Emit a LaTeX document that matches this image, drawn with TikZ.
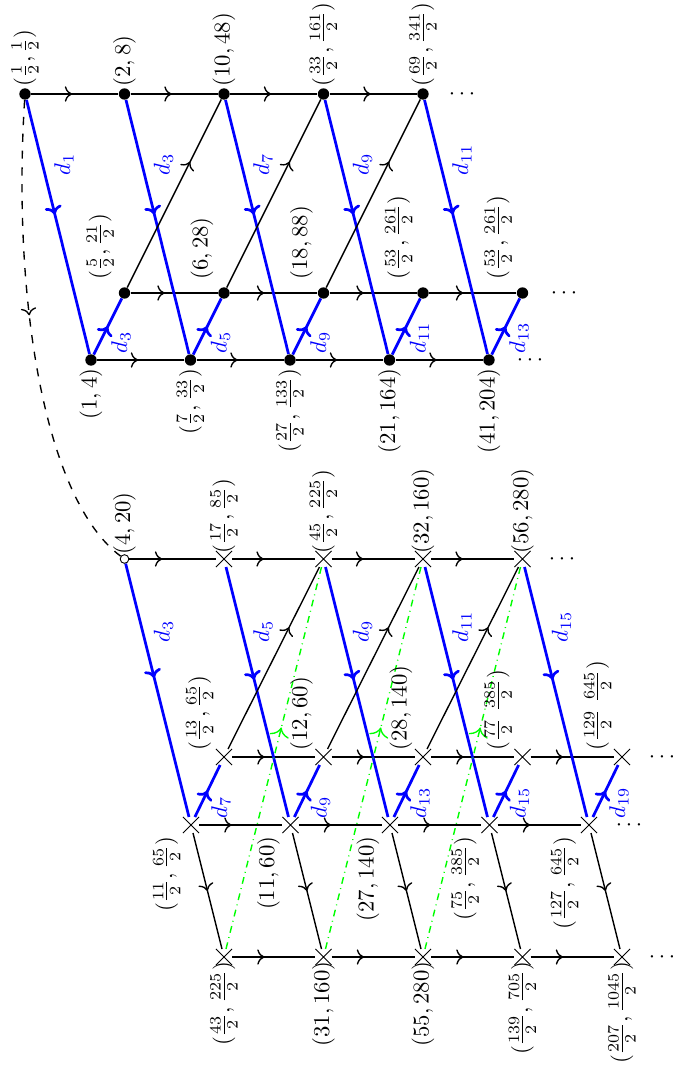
\documentclass[tikz,border=0pt]{standalone}
\usetikzlibrary{decorations.markings,shapes.misc,arrows.meta}
\begin{document}
\begin{tikzpicture}[x=0.44pt,y=-0.44pt,
  dot/.style={circle,fill,inner sep=0pt,minimum size=5pt},
  odot/.style={circle,draw,fill=white,inner sep=0pt,minimum size=3.8pt,line width=0.4pt},
  crs/.style={cross out,draw,inner sep=0pt,minimum size=6.6pt,line width=0.45pt},
  lab/.style={rotate=90,inner sep=1pt},
  dlab/.style={rotate=90,inner sep=1pt,text=blue},
  blk/.style={line width=0.6pt,>={To[scale=1.1]}},
  blu/.style={blue,line width=1.2pt,>={To[scale=0.85]}},
  grn/.style={green,dash dot,line width=0.6pt,>={To[scale=1.4]}},
  dsh/.style={line width=0.6pt,dash pattern=on 3.6pt off 3.8pt,>={To[scale=1.1]}},
  marr/.style={postaction={decorate},decoration={markings,mark=at position #1 with {\arrow{>}}}},
]
\useasboundingbox (0,0) rectangle (672,1071);

% ---------- top diagram nodes ----------
\foreach \n/\x in {1/25,2/124.5,3/224,4/323.5,5/423} \node[dot] (A\n) at (\x,94) {};
\foreach \n/\x in {1/124.5,2/224,3/323.5,4/423,5/522.5} \node[dot] (B\n) at (\x,293) {};
\foreach \n/\x in {1/91,2/190.5,3/290,4/389.5,5/489} \node[dot] (C\n) at (\x,360) {};
% ---------- bottom diagram nodes ----------
\node[odot] (D1) at (124.5,559) {};
\foreach \n/\x in {2/224,3/323.5,4/423,5/522.5} \node[crs] (D\n) at (\x,559) {};
\foreach \n/\x in {1/224,2/323.5,3/423,4/522.5,5/622} \node[crs] (E\n) at (\x,757) {};
\foreach \n/\x in {1/191,2/290.5,3/390,4/489.5,5/589} \node[crs] (F\n) at (\x,825) {};
\foreach \n/\x in {1/224,2/323.5,3/423,4/522.5,5/622} \node[crs] (G\n) at (\x,957) {};

% ---------- top diagram edges ----------
\foreach \a/\b in {1/2,2/3,3/4,4/5} {
  \draw[blk,marr=0.47] (A\a) -- (A\b);
  \draw[blk,marr=0.39] (B\a) -- (B\b);
  \draw[blk,marr=0.47] (C\a) -- (C\b);
}
\foreach \n in {1,...,5} {
  \draw[blu,marr=0.45] (A\n) -- (C\n);
  \draw[blu,marr=0.5] (C\n) -- (B\n);
}
\foreach \a/\b in {1/3,2/4,3/5} \draw[blk,marr=0.67] (B\a) -- (A\b);

% ---------- bottom diagram edges ----------
\foreach \a/\b in {1/2,2/3,3/4,4/5} {
  \draw[blk,marr=0.38] (D\a) -- (D\b);
  \draw[blk,marr=0.39] (E\a) -- (E\b);
  \draw[blk,marr=0.39] (F\a) -- (F\b);
  \draw[blk,marr=0.39] (G\a) -- (G\b);
}
\foreach \n in {1,...,5} {
  \draw[blu,marr=0.45] (D\n) -- (F\n);
  \draw[blu,marr=0.5] (F\n) -- (E\n);
  \draw[blk,marr=0.5] (F\n) -- (G\n);
}
\foreach \a/\b in {1/3,2/4,3/5} {
  \draw[blk,marr=0.67] (E\a) -- (D\b);
  \draw[grn,marr=0.58] (G\a) -- (D\b);
}
\draw[dsh,marr=0.45] (A1) .. controls (12,300) and (45,500) .. (D1);

% ---------- dots ----------
\node (eA) at (462,94) {$\cdots$};
\node (eB) at (564,293) {$\cdots$};
\node (eC) at (530,360) {$\cdots$};
\node (eD) at (562,559) {$\cdots$};
\node (eE) at (662,757) {$\cdots$};
\node (eF) at (629,825) {$\cdots$};
\node (eG) at (662,957) {$\cdots$};

% ---------- labels row A ----------
\node[lab,anchor=west] (lA1) at (25,89) {$(\frac{1}{2},\frac{1}{2})$};
\node[lab,anchor=west] (lA2) at (124.5,89) {$(2,8)$};
\node[lab,anchor=west] (lA3) at (224,89) {$(10,48)$};
\node[lab,anchor=west] (lA4) at (323.5,89) {$(\frac{33}{2},\frac{161}{2})$};
\node[lab,anchor=west] (lA5) at (423,89) {$(\frac{69}{2},\frac{341}{2})$};
% row B
\node[lab,anchor=south west] (lB1) at (116.5,282) {$(\frac{5}{2},\frac{21}{2})$};
\node[lab,anchor=south west] (lB2) at (216,282) {$(6,28)$};
\node[lab,anchor=south west] (lB3) at (315.5,282) {$(18,88)$};
\node[lab,anchor=south west] (lB4) at (415,282) {$(\frac{53}{2},\frac{261}{2})$};
\node[lab,anchor=south west] (lB5) at (514.5,282) {$(\frac{53}{2},\frac{261}{2})$};
% row C
\node[lab,anchor=east] (lC1) at (91,366) {$(1,4)$};
\node[lab,anchor=east] (lC2) at (190.5,366) {$(\frac{7}{2},\frac{33}{2})$};
\node[lab,anchor=east] (lC3) at (290,366) {$(\frac{27}{2},\frac{133}{2})$};
\node[lab,anchor=east] (lC4) at (389.5,366) {$(21,164)$};
\node[lab,anchor=east] (lC5) at (489,366) {$(41,204)$};
% row D
\node[lab,anchor=west] (lD1) at (124.5,557) {$(4,20)$};
\node[lab,anchor=west] (lD2) at (224,556) {$(\frac{17}{2},\frac{85}{2})$};
\node[lab,anchor=west] (lD3) at (323.5,556) {$(\frac{45}{2},\frac{225}{2})$};
\node[lab,anchor=west] (lD4) at (423,556) {$(32,160)$};
\node[lab,anchor=west] (lD5) at (522.5,556) {$(56,280)$};
% row E
\node[lab,anchor=south west] (lE1) at (216,753) {$(\frac{13}{2},\frac{65}{2})$};
\node[lab,anchor=south west] (lE2) at (315.5,753) {$(12,60)$};
\node[lab,anchor=south west] (lE3) at (415,753) {$(28,140)$};
\node[lab,anchor=south west] (lE4) at (514.5,753) {$(\frac{77}{2}\;\frac{385}{2})$};
\node[lab,anchor=south west] (lE5) at (614,753) {$(\frac{129}{2}\;\frac{645}{2})$};
% row F
\node[lab,anchor=south east] (lF1) at (183,834) {$(\frac{11}{2},\frac{65}{2})$};
\node[lab,anchor=south east] (lF2) at (282.5,834) {$(11,60)$};
\node[lab,anchor=south east] (lF3) at (382,834) {$(27,140)$};
\node[lab,anchor=south east] (lF4) at (481.5,834) {$(\frac{75}{2},\frac{385}{2})$};
\node[lab,anchor=south east] (lF5) at (581,834) {$(\frac{127}{2},\frac{645}{2})$};
% row G
\node[lab,anchor=east] (lG1) at (224,959) {$(\frac{43}{2},\frac{225}{2})$};
\node[lab,anchor=east] (lG2) at (323.5,959) {$(31,160)$};
\node[lab,anchor=east] (lG3) at (423,959) {$(55,280)$};
\node[lab,anchor=east] (lG4) at (522.5,959) {$(\frac{139}{2},\frac{705}{2})$};
\node[lab,anchor=east] (lG5) at (622,959) {$(\frac{207}{2},\frac{1045}{2})$};

% ---------- blue d labels ----------
\foreach \n/\x/\s in {1/64/1,2/163.5/3,3/263/7,4/362.5/9,5/462/11}
  \node[dlab,anchor=west] (dA\n) at (\x,178) {$d_{\s}$};
\foreach \n/\x/\s in {1/121/3,2/220.5/5,3/320/9,4/419.5/11,5/519/13}
  \node[dlab,anchor=west] (dC\n) at (\x,356) {$d_{\s}$};
\foreach \n/\x/\s in {1/163.5/3,2/263/5,3/362.5/9,4/462/11,5/561.5/15}
  \node[dlab,anchor=west] (dD\n) at (\x,645) {$d_{\s}$};
\foreach \n/\x/\s in {1/221/7,2/320.5/9,3/420/13,4/519.5/15,5/619/19}
  \node[dlab,anchor=west] (dF\n) at (\x,821) {$d_{\s}$};
\end{tikzpicture}
\end{document}
